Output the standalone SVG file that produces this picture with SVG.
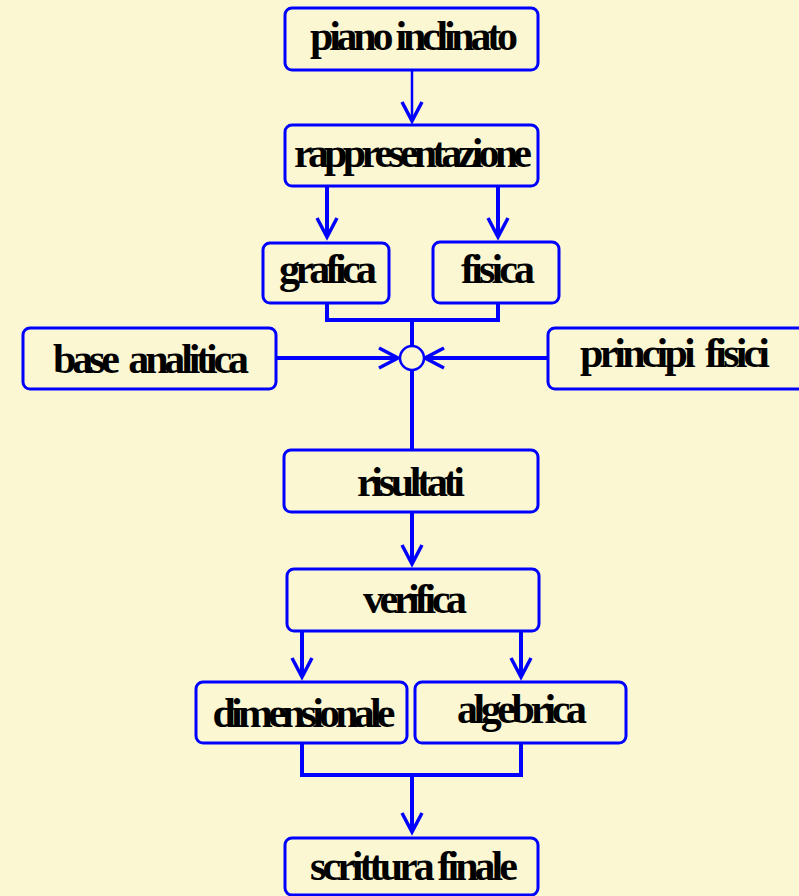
<svg xmlns="http://www.w3.org/2000/svg" width="799" height="896" viewBox="0 0 799 896">
  <style>
    .box { fill: #FBF7D3; stroke: #0000FF; stroke-width: 3; }
    .lbl { font-family: "Liberation Serif", "Times New Roman", serif; font-weight: bold; font-size: 42px; fill: #000; text-anchor: middle; white-space: pre; }
    .wire { fill: none; stroke: #0000FF; stroke-width: 4; stroke-linejoin: miter; }
    .thin { stroke-width: 2.5; }
  </style>
  <defs>
    <marker id="chev" viewBox="-22 -12 24 24" refX="0" refY="0" markerWidth="24" markerHeight="24" markerUnits="userSpaceOnUse" orient="auto" overflow="visible">
      <path d="M-19,-10 L0,0 L-19,10" fill="none" stroke="#0000FF" stroke-width="3.5" stroke-linejoin="miter"/>
    </marker>
  </defs>

  <rect width="799" height="896" fill="#FBF7D3"/>

  <!-- connectors -->
  <g id="connectors">
    <path class="wire thin" d="M412,70 V121" marker-end="url(#chev)"/>
    <path class="wire" d="M327,186 V237" marker-end="url(#chev)"/>
    <path class="wire" d="M498,186 V237" marker-end="url(#chev)"/>
    <path class="wire" d="M327,303 V320 H498 V303"/>
    <path class="wire" d="M412,320 V346"/>
    <path class="wire" d="M276,358 H398" marker-end="url(#chev)"/>
    <path class="wire" d="M548,358 H425" marker-end="url(#chev)"/>
    <path class="wire" d="M412,370 V450"/>
    <path class="wire" d="M412,512 V564" marker-end="url(#chev)"/>
    <path class="wire" d="M302,631 V677" marker-end="url(#chev)"/>
    <path class="wire" d="M521,631 V677" marker-end="url(#chev)"/>
    <path class="wire" d="M302,743 V775 H521 V743"/>
    <path class="wire" d="M412,775 V832" marker-end="url(#chev)"/>
    <circle id="junction" cx="412" cy="358" r="12" fill="#FBF7D3" stroke="#0000FF" stroke-width="2.5"/>
  </g>

  <g id="piano">
    <rect class="box" x="285" y="8" width="253" height="62" rx="7"/>
    <text class="lbl" x="414" y="50" textLength="208" lengthAdjust="spacing">piano inclinato</text>
  </g>
  <g id="rappresentazione">
    <rect class="box" x="285" y="125" width="253" height="61" rx="7"/>
    <text class="lbl" x="413" y="167" textLength="238" lengthAdjust="spacing">rappresentazione</text>
  </g>
  <g id="grafica">
    <rect class="box" x="263" y="243" width="126" height="60" rx="7"/>
    <text class="lbl" x="328" y="283" textLength="98" lengthAdjust="spacing">grafica</text>
  </g>
  <g id="fisica">
    <rect class="box" x="433" y="242" width="126" height="61" rx="7"/>
    <text class="lbl" x="498" y="283" textLength="74" lengthAdjust="spacing">fisica</text>
  </g>
  <g id="base-analitica">
    <rect class="box" x="23" y="328" width="253" height="61" rx="7"/>
    <text class="lbl" x="151" y="373" textLength="196" lengthAdjust="spacing" xml:space="preserve">base  analitica</text>
  </g>
  <g id="principi-fisici">
    <rect class="box" x="548" y="328" width="258" height="61" rx="7"/>
    <text class="lbl" x="675" y="367" textLength="190" lengthAdjust="spacing" xml:space="preserve">principi  fisici</text>
  </g>
  <g id="risultati">
    <rect class="box" x="284" y="450" width="254" height="62" rx="7"/>
    <text class="lbl" x="411" y="496" textLength="108" lengthAdjust="spacing">risultati</text>
  </g>
  <g id="verifica">
    <rect class="box" x="287" y="569" width="252" height="62" rx="7"/>
    <text class="lbl" x="415" y="613" textLength="104" lengthAdjust="spacing">verifica</text>
  </g>
  <g id="dimensionale">
    <rect class="box" x="196" y="682" width="211" height="61" rx="7"/>
    <text class="lbl" x="304" y="727" textLength="183" lengthAdjust="spacing">dimensionale</text>
  </g>
  <g id="algebrica">
    <rect class="box" x="415" y="682" width="211" height="61" rx="7"/>
    <text class="lbl" x="522" y="723" textLength="130" lengthAdjust="spacing">algebrica</text>
  </g>
  <g id="scrittura-finale">
    <rect class="box" x="285" y="838" width="253" height="57" rx="7"/>
    <text class="lbl" x="414" y="880" textLength="208" lengthAdjust="spacing">scrittura finale</text>
  </g>
</svg>
